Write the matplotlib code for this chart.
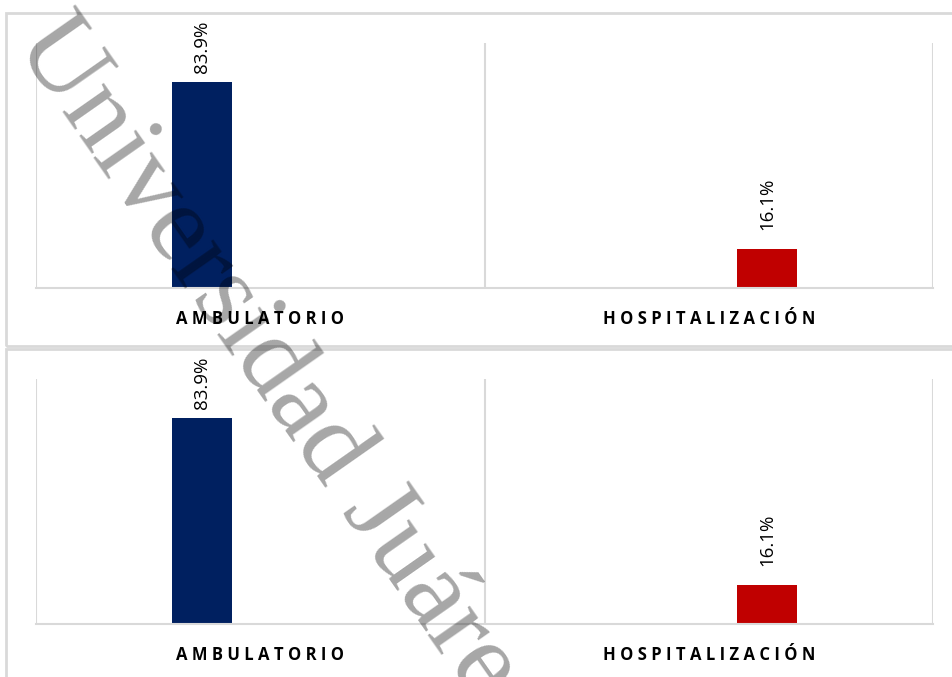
import matplotlib.pyplot as plt
from matplotlib.patches import Rectangle

# data
categories = ["AMBULATORIO", "HOSPITALIZACIÓN"]
series_vals = [[83.9, 0.0], [0.0, 16.1]]
series_colors = ["#002060", "#C00000"]
label_fmt = "{:.1f}%"

W, H = 953, 677
fig = plt.figure(figsize=(W / 100, H / 100), dpi=100)
fig.patch.set_facecolor("white")

grid_c = "#d9d9d9"


def px_box(left, top, right, bottom):
    return [left / W, 1 - bottom / H, (right - left) / W, (bottom - top) / H]


# outer chart borders
fig.add_artist(Rectangle((6 / W, 1 - 346 / H), 2.0, (346 - 13) / H,
                         transform=fig.transFigure, fill=False,
                         edgecolor=grid_c, lw=2))
fig.add_artist(Rectangle((6 / W, -0.1), 2.0, 1 - 349 / H + 0.1,
                         transform=fig.transFigure, fill=False,
                         edgecolor=grid_c, lw=2))

offsets = [-0.13, 0.13]
width = 0.135
label_pad = [7, 13]

for top in (43, 379):
    ax = fig.add_axes(px_box(36, top, 933, top + 245))
    ax.set_xlim(-0.5, 1.5)
    ax.set_ylim(0, 100)
    for s, vals in enumerate(series_vals):
        xs = [i + offsets[s] for i in range(len(categories))]
        for x, v in zip(xs, vals):
            if v <= 0:
                continue
            ax.bar(x, v, width=width, color=series_colors[s], zorder=2)
            ax.annotate(label_fmt.format(v), (x, v), xytext=(0, label_pad[s]),
                        textcoords="offset points", rotation=90,
                        ha="center", va="bottom", fontsize=13.5,
                        family="Open Sans", color="#000000")
    for xv in (-0.5, 0.5, 1.5):
        ax.axvline(xv, color=grid_c, lw=1.5, zorder=1)
    for sp in ["top", "left", "right"]:
        ax.spines[sp].set_visible(False)
    ax.spines["bottom"].set_color(grid_c)
    ax.spines["bottom"].set_linewidth(1.5)
    ax.set_yticks([])
    ax.set_xticks(range(len(categories)))
    ax.set_xticklabels([" ".join(c) for c in categories], fontsize=12,
                       fontweight="bold", family="Open Sans", color="#000000")
    ax.tick_params(axis="x", length=0, pad=16)

# watermark
fig.text(14 / W, 1 - 44 / H, "Universidad Juárez del Estado de Durango",
         rotation=-55, rotation_mode="anchor", ha="left", va="baseline",
         fontsize=80, family="Liberation Serif", color="black", alpha=0.35,
         zorder=10)

fig.savefig("out.png", dpi=100)
